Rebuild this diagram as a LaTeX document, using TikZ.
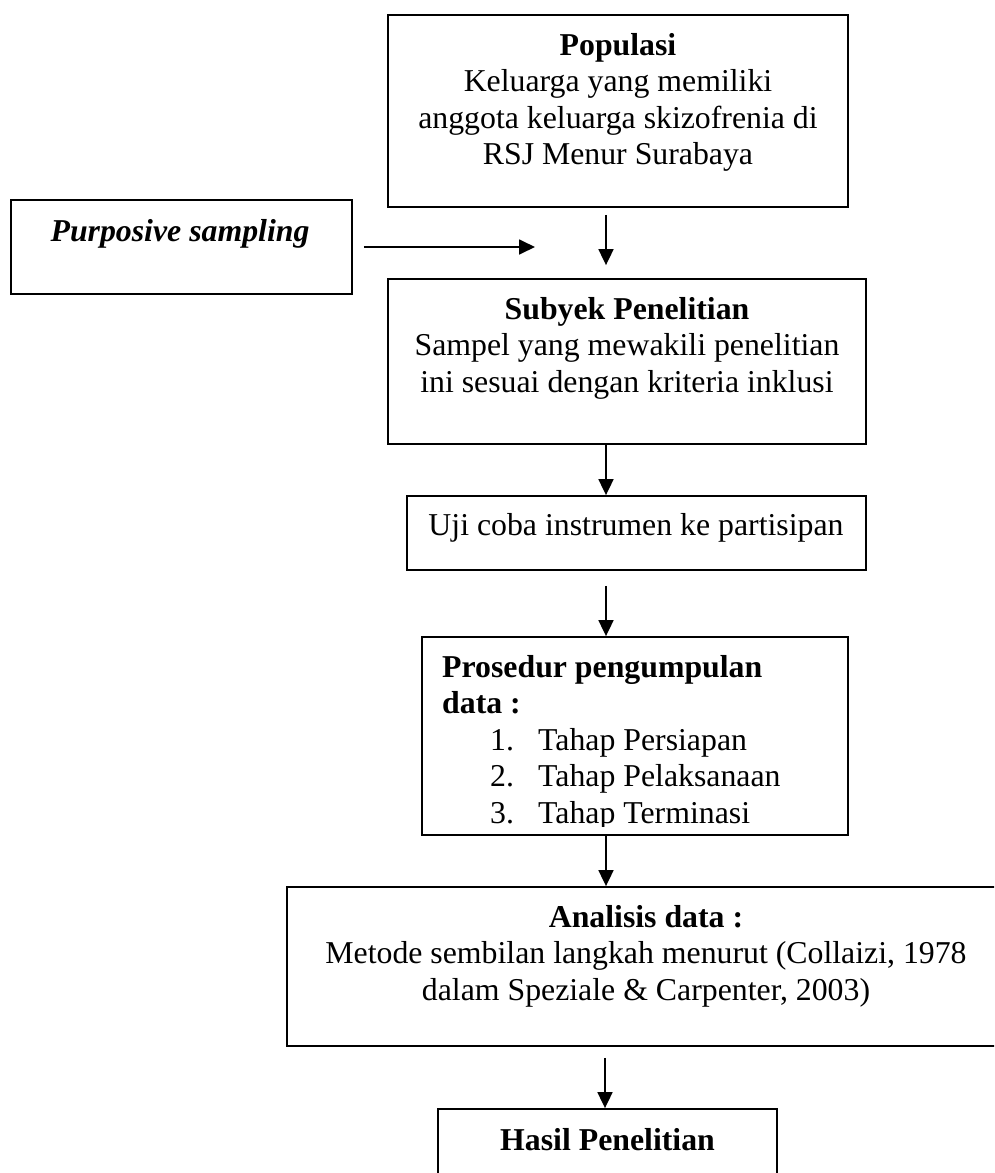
\documentclass[tikz,border=0pt]{standalone}
\usepackage{fontspec}
\setmainfont{Liberation Serif}
\usetikzlibrary{arrows.meta}
\newcommand\diagfont{\fontsize{31.8}{36.6}\selectfont}
\begin{document}
\begin{tikzpicture}[x=1pt,y=-1pt,
  box/.style={draw, line width=1.8pt, inner sep=0pt},
  arr/.style={-{Triangle[length=16pt,width=15pt]}, line width=1.8pt},
  txt/.style={inner sep=0pt, anchor=base, font=\diagfont},
]
\useasboundingbox (0,0) rectangle (994,1173);
\clip (0,0) rectangle (994,1173);

% boxes
\node[box, minimum width=460, minimum height=192] (pop)   at (618,111)   {};
\node[box, minimum width=341, minimum height=94]  (purp)  at (181.5,247) {};
\node[box, minimum width=478, minimum height=165] (sub)   at (627,361.5) {};
\node[box, minimum width=459, minimum height=74]  (uji)   at (636.5,533) {};
\node[box, minimum width=426, minimum height=198] (pros)  at (635,736)   {};
\node[box, minimum width=718, minimum height=159] (ana)   at (646,966.5) {};
\node[box, minimum width=339, minimum height=121] (hasil) at (607.5,1169.5) {};

% texts
\node[txt] (popT) at (618,55) {\parbox[t]{450pt}{\centering\textbf{Populasi}\\Keluarga yang memiliki\\anggota keluarga skizofrenia di\\RSJ Menur Surabaya}};
\node[txt] (purpT) at (180,241) {\textbf{\textit{Purposive sampling}}};
\node[txt] (subT) at (627,319) {\parbox[t]{470pt}{\centering\textbf{Subyek Penelitian}\\Sampel yang mewakili penelitian\\ini sesuai dengan kriteria inklusi}};
\node[txt] (ujiT) at (636,535) {Uji coba instrumen ke partisipan};
\begin{scope}
\clip (422,637) rectangle (848,826);
\node[txt, anchor=base west] (prosT) at (442,677) {\parbox[t]{400pt}{\raggedright
  \textbf{Prosedur pengumpulan}\\
  \textbf{data :}\\
  \hspace*{48pt}\makebox[48pt][l]{1.}Tahap Persiapan\\
  \hspace*{48pt}\makebox[48pt][l]{2.}Tahap Pelaksanaan\\
  \hspace*{48pt}\makebox[48pt][l]{3.}Tahap Terminasi}};
\end{scope}
\node[txt] (anaT) at (646,927) {\parbox[t]{700pt}{\centering\textbf{Analisis data :}\\Metode sembilan langkah menurut (Collaizi, 1978\\dalam Speziale \& Carpenter, 2003)}};
\node[txt] (hasilT) at (607.5,1150) {\textbf{Hasil Penelitian}};

% connectors
\coordinate (hEnd) at (535,247);
\draw[arr] ([shift={(11,0)}]purp.east) -- (hEnd);
\draw[arr] ([shift={(-12,7)}]pop.south) -- ([shift={(-21,-13)}]sub.north);
\draw[arr] ([shift={(-21,0)}]sub.south) -- ([shift={(-30.5,0)}]uji.north);
\draw[arr] ([shift={(-30.5,15)}]uji.south) -- ([shift={(-29,0)}]pros.north);
\draw[arr] ([shift={(-29,0)}]pros.south) -- ([shift={(-40,0)}]ana.north);
\draw[arr] ([shift={(-41,11)}]ana.south) -- ([shift={(-2.5,0)}]hasil.north);
\end{tikzpicture}
\end{document}
